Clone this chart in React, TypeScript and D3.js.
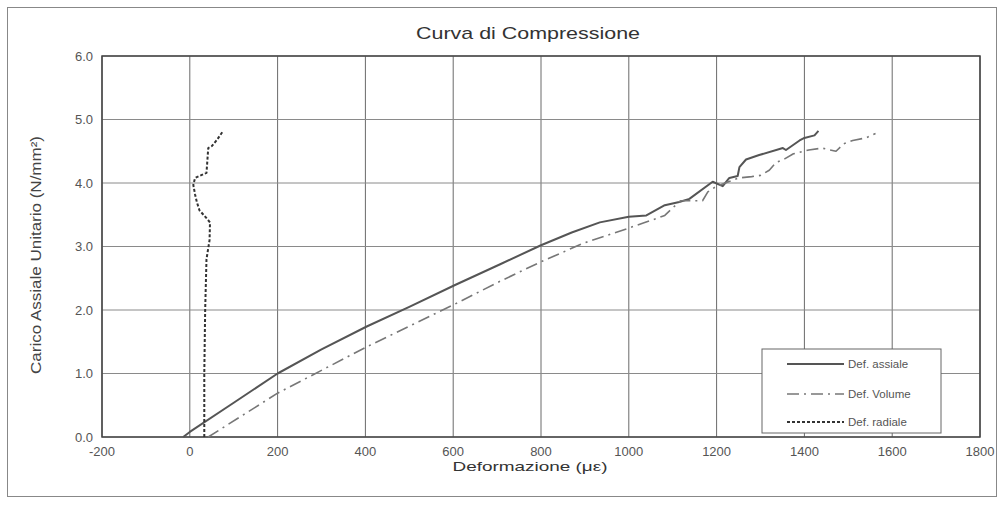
import React from "react";
import * as d3 from "d3";

const title = "Curva di Compressione";
const xTitle = "Deformazione (με)";
const yTitle = "Carico Assiale Unitario (N/mm²)";
const xTicks = [-200, 0, 200, 400, 600, 800, 1000, 1200, 1400, 1600, 1800];
const yTicks = [0, 1, 2, 3, 4, 5, 6];
const seriesNames = ["Def. assiale", "Def. Volume", "Def. radiale"];

// [deformation (με), load (N/mm²)]
const assiale: [number, number][] = [
  [-15, 0], [0, 0.08], [100, 0.54], [200, 1.0], [300, 1.38], [403, 1.74], [500, 2.05],
  [603, 2.39], [707, 2.72], [800, 3.02], [870, 3.22], [934, 3.38], [1000, 3.47],
  [1040, 3.49], [1082, 3.65], [1115, 3.7], [1138, 3.75], [1191, 4.02], [1214, 3.95],
  [1229, 4.08], [1248, 4.11], [1252, 4.25], [1267, 4.37], [1297, 4.44], [1351, 4.55],
  [1358, 4.52], [1389, 4.67], [1400, 4.71], [1423, 4.75], [1432, 4.82],
];
const volume: [number, number][] = [
  [42, 0], [200, 0.69], [403, 1.42], [603, 2.09], [700, 2.43], [800, 2.76], [896, 3.05],
  [1000, 3.29], [1033, 3.37], [1063, 3.44], [1082, 3.49], [1108, 3.66], [1118, 3.72],
  [1168, 3.72], [1180, 3.86], [1200, 3.95], [1250, 4.08], [1280, 4.1], [1300, 4.12],
  [1320, 4.2], [1335, 4.32], [1355, 4.38], [1375, 4.46], [1410, 4.52], [1440, 4.55],
  [1472, 4.5], [1490, 4.62], [1510, 4.67], [1540, 4.71], [1562, 4.78],
];
const radiale: [number, number][] = [
  [33, 0], [33, 1.0], [35, 2.0], [38, 2.8], [45, 3.1], [46, 3.38], [35, 3.47], [22, 3.57],
  [16, 3.7], [12, 3.82], [8, 3.97], [12, 4.08], [25, 4.12], [38, 4.16], [40, 4.35],
  [42, 4.55], [50, 4.58], [62, 4.68], [70, 4.76], [76, 4.82],
];

const W = 1003, H = 508;
const plot = { left: 102, right: 980, top: 56, bottom: 437 };

export default function App() {
  const x = d3.scaleLinear().domain([-200, 1800]).range([plot.left, plot.right]);
  const y = d3.scaleLinear().domain([0, 6]).range([plot.bottom, plot.top]);
  const line = d3.line<[number, number]>().x((d) => x(d[0])).y((d) => y(d[1]));

  const styles = [
    { data: assiale, stroke: "#555", width: 2, dash: undefined as string | undefined },
    { data: volume, stroke: "#777", width: 1.6, dash: "12 5 2 5" },
    { data: radiale, stroke: "#333", width: 2, dash: "3 2" },
  ];
  const font = "'Liberation Sans', Arial, sans-serif";
  const legend = { x: 762, y: 349, w: 179, h: 84 };
  const legendRows = [364, 394, 422];

  return (
    <svg width={W} height={H} style={{ position: "absolute", left: 0, top: 0, background: "#fff" }} fontFamily={font}>
      <rect x={0} y={0} width={W} height={H} fill="#fff" />
      <rect x={7.5} y={7.5} width={989} height={489} fill="none" stroke="#888" strokeWidth={1} />
      <text x={528} y={39} textAnchor="middle" fontSize={17} fill="#333" textLength={224} lengthAdjust="spacingAndGlyphs">{title}</text>
      {/* grid */}
      {xTicks.map((t) => (
        <line key={"gx" + t} x1={x(t)} x2={x(t)} y1={plot.top} y2={plot.bottom} stroke="#6a6a6a" strokeWidth={1} />
      ))}
      {yTicks.map((t) => (
        <line key={"gy" + t} x1={plot.left} x2={plot.right} y1={y(t)} y2={y(t)} stroke="#8a8a8a" strokeWidth={1} />
      ))}
      <rect x={plot.left} y={plot.top} width={plot.right - plot.left} height={plot.bottom - plot.top} fill="none" stroke="#444" strokeWidth={1.5} />
      {/* tick labels */}
      {xTicks.map((t) => (
        <text key={"tx" + t} x={x(t)} y={456} textAnchor="middle" fontSize={13} fill="#555">{t}</text>
      ))}
      {yTicks.map((t) => (
        <text key={"ty" + t} x={93} y={y(t) + 4.5} textAnchor="end" fontSize={13} fill="#555">{t.toFixed(1)}</text>
      ))}
      <text x={530} y={471} textAnchor="middle" fontSize={13} fill="#333" textLength={155} lengthAdjust="spacingAndGlyphs">{xTitle}</text>
      <text transform={`translate(41,255) rotate(-90)`} textAnchor="middle" fontSize={14} fill="#444" textLength={238} lengthAdjust="spacingAndGlyphs">{yTitle}</text>
      {/* series */}
      {styles.map((s, i) => (
        <path key={"s" + i} d={line(s.data) || ""} fill="none" stroke={s.stroke} strokeWidth={s.width} strokeDasharray={s.dash} strokeLinejoin="round" />
      ))}
      {/* legend */}
      <rect x={legend.x} y={legend.y} width={legend.w} height={legend.h} fill="#fff" stroke="#666" strokeWidth={1} />
      {styles.map((s, i) => (
        <g key={"l" + i}>
          <line x1={787} x2={844} y1={legendRows[i]} y2={legendRows[i]} stroke={s.stroke} strokeWidth={s.width} strokeDasharray={s.dash} />
          <text x={848} y={legendRows[i] + 4} fontSize={11.5} fill="#555">{seriesNames[i]}</text>
        </g>
      ))}
    </svg>
  );
}
